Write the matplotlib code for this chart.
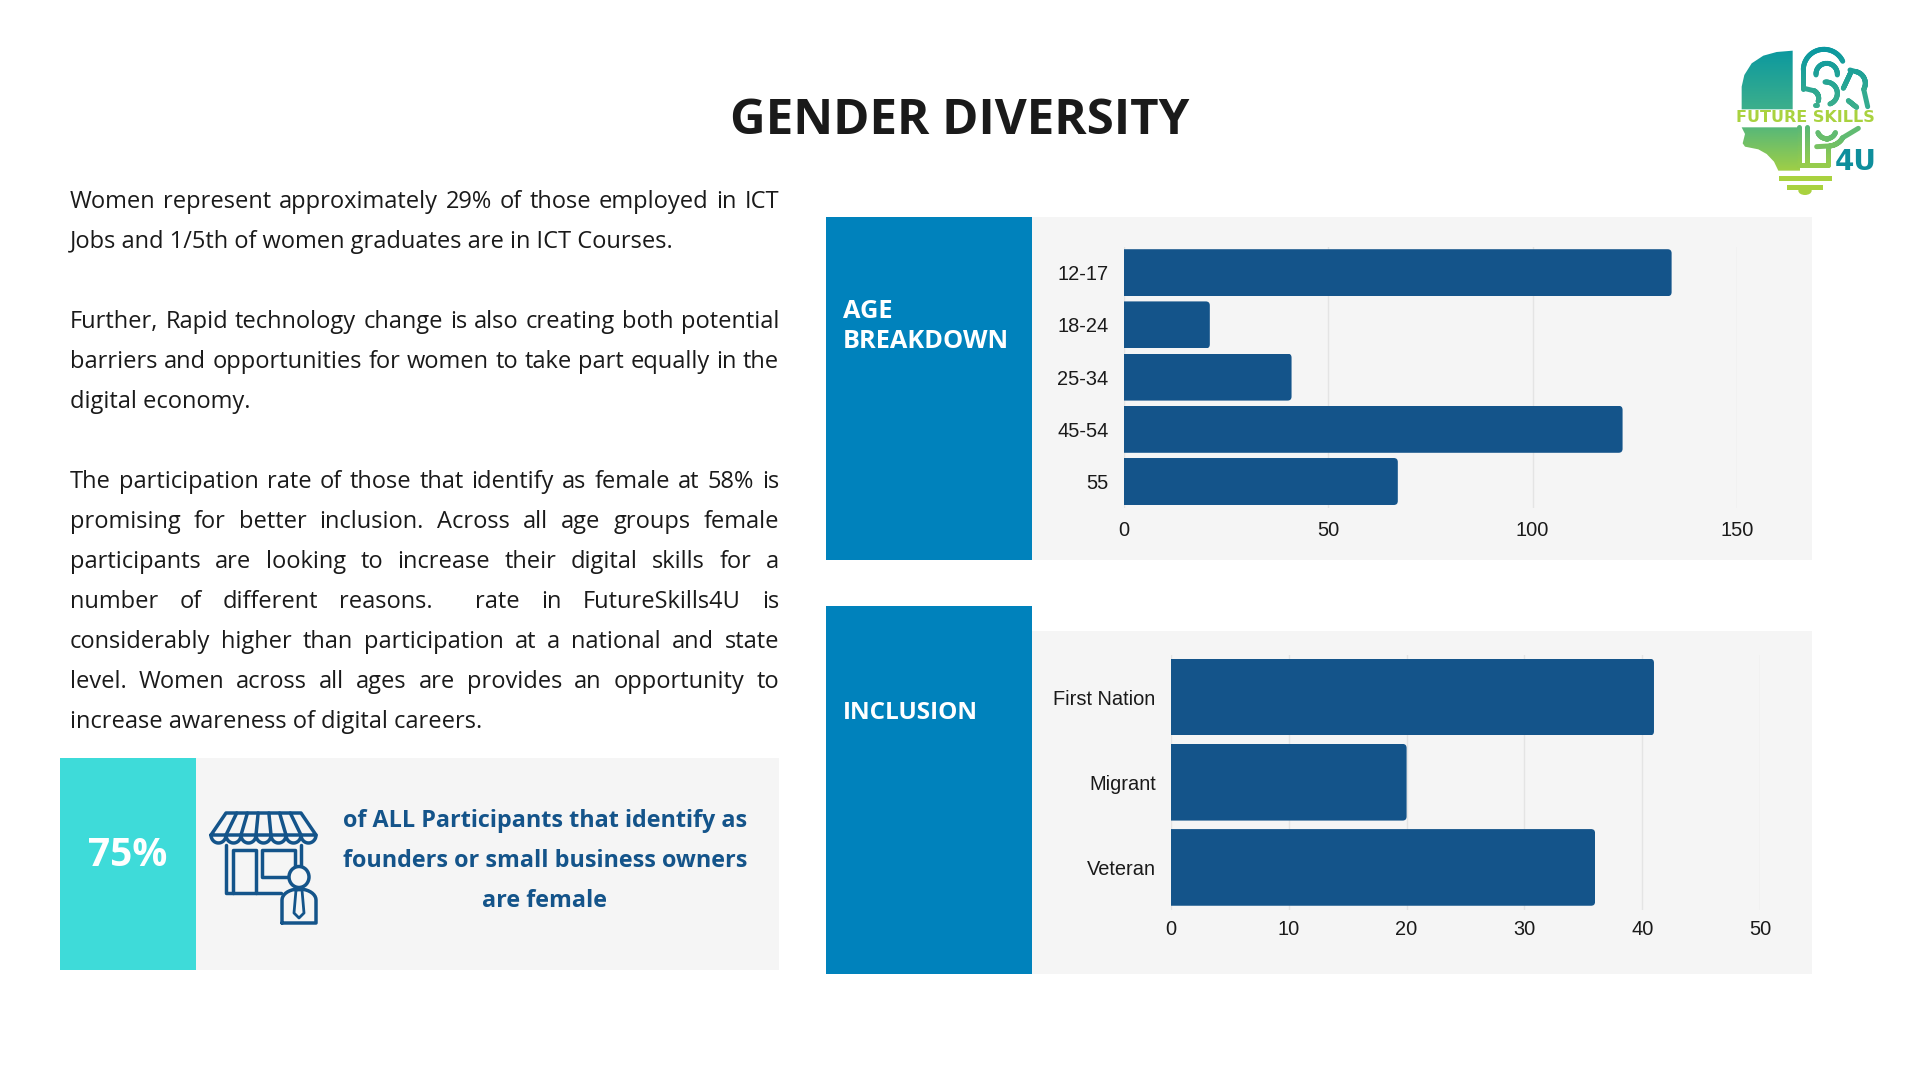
import numpy as np
import matplotlib
matplotlib.use("Agg")
import matplotlib.pyplot as plt
from matplotlib.collections import LineCollection
from matplotlib.colors import LinearSegmentedColormap
from matplotlib.patches import Rectangle, FancyBboxPatch, Ellipse, PathPatch
from matplotlib.path import Path
from matplotlib.transforms import IdentityTransform

W, H = 1920, 1080

age_groups = ["12-17", "18-24", "25-34", "45-54", "55"]
age_counts = [134, 21, 41, 122, 67]
age_ticks = [0, 50, 100, 150]

inclusion_groups = ["First Nation", "Migrant", "Veteran"]
inclusion_counts = [41, 20, 36]
inclusion_ticks = [0, 10, 20, 30, 40, 50]

title = "GENDER DIVERSITY"
body_lines = [
    ("Women represent approximately 29% of those employed in ICT", True),
    ("Jobs and 1/5th of women graduates are in ICT Courses.", False),
    None,
    ("Further, Rapid technology change is also creating both potential", True),
    ("barriers and opportunities for women to take part equally in the", True),
    ("digital economy.", False),
    None,
    ("The participation rate of those that identify as female at 58% is", True),
    ("promising for better inclusion. Across all age groups female", True),
    ("participants are looking to increase their digital skills for a", True),
    ("number of different reasons.  rate in FutureSkills4U is", True),
    ("considerably higher than participation at a national and state", True),
    ("level. Women across all ages are provides an opportunity to", True),
    ("increase awareness of digital careers.", False),
]
callout_value = "75%"
callout_lines = ["of ALL Participants that identify as",
                 "founders or small business owners",
                 "are female"]

BLUE = "#0082BC"
BAR = "#14548A"
GREY = "#F5F5F5"
TURQ = "#3EDBD9"
INK = "#1A1A1A"
MAIN_FONT = "Open Sans"

fig = plt.figure(figsize=(19.2, 10.8), dpi=100, facecolor="white")


def px_axes(x0, y0, x1, y1):
    return fig.add_axes([x0 / W, 1 - y1 / H, (x1 - x0) / W, (y1 - y0) / H])


bg = px_axes(0, 0, W, H)
bg.set_xlim(0, W)
bg.set_ylim(H, 0)
bg.axis("off")


def box(x0, y0, x1, y1, color):
    bg.add_patch(Rectangle((x0, y0), x1 - x0, y1 - y0, fc=color, ec="none"))


box(1032, 217, 1812, 560, GREY)
box(826, 217, 1032, 560, BLUE)
box(1032, 631, 1812, 974, GREY)
box(826, 606, 1032, 974, BLUE)
box(196, 758, 779, 970, GREY)
box(60, 758, 196, 970, TURQ)

bg.text(960, 121, title, ha="center", va="center", fontsize=35.5, fontweight="bold",
        color=INK, family=MAIN_FONT)

bg.text(843, 311, "AGE", va="center", fontsize=18.3, fontweight="bold", color="white", family=MAIN_FONT)
bg.text(843, 341, "BREAKDOWN", va="center", fontsize=18.3, fontweight="bold", color="white", family=MAIN_FONT)
bg.text(843, 713, "INCLUSION", va="center", fontsize=17.5, fontweight="bold", color="white", family=MAIN_FONT)

bg.text(128, 856, callout_value, ha="center", va="center", fontsize=28, fontweight="bold",
        color="white", family=MAIN_FONT)
for i, line in enumerate(callout_lines):
    bg.text(545, 821 + i * 40, line, ha="center", va="center", fontsize=16.8, fontweight="bold",
            color=BAR, family=MAIN_FONT)

# body copy, justified by hand since matplotlib can't do it
renderer = fig.canvas.get_renderer()
LEFT, RIGHT = 70, 779
BODY_SIZE = 17
for i, entry in enumerate(body_lines):
    if entry is None:
        continue
    y = 202 + i * 40
    line, justified = entry
    if not justified:
        bg.text(LEFT, y, line, va="center", fontsize=BODY_SIZE, color=INK, family=MAIN_FONT)
        continue
    words = line.split(" ")
    parts = [bg.text(LEFT, y, w, va="center", fontsize=BODY_SIZE, color=INK, family=MAIN_FONT) for w in words]
    widths = [p.get_window_extent(renderer).width if p.get_text() else 0 for p in parts]
    gap = (RIGHT - LEFT - sum(widths)) / (len(words) - 1)
    x = LEFT
    for p, w in zip(parts, widths):
        p.set_x(x)
        x += w + gap


def hbar_chart(pos, labels, values, ticks, tick_y_pad):
    ax = px_axes(*pos)
    ax.patch.set_alpha(0)
    bars = ax.barh(labels, values, height=0.9, color=BAR, zorder=3)
    ax.set_xlim(ticks[0], ticks[-1])
    ax.set_ylim(len(labels) - 0.5, -0.5)
    ax.set_xticks(ticks)
    ax.grid(axis="x", color="#E4E4E4", linewidth=1, zorder=0)
    ax.tick_params(length=0, labelsize=14.4, labelcolor=INK)
    ax.tick_params(axis="y", pad=11)
    ax.tick_params(axis="x", pad=tick_y_pad)
    for s in ax.spines.values():
        s.set_visible(False)
    for t in ax.get_xticklabels() + ax.get_yticklabels():
        t.set_family("Liberation Sans")
    # small rounded right end on each bar
    for b in bars:
        ext = b.get_window_extent(renderer)
        clip = FancyBboxPatch((ext.x0 - 20, ext.y0), ext.width + 20, ext.height,
                              boxstyle="round,pad=0,rounding_size=4", transform=IdentityTransform())
        b.set_clip_path(clip)
    return ax


hbar_chart((1124, 246.6, 1737, 507.6), age_groups, age_counts, age_ticks, 9.5)
hbar_chart((1171, 654.5, 1760, 910), inclusion_groups, inclusion_counts, inclusion_ticks, 7.5)

# shop front icon
ic = dict(color=BAR, lw=2.5, solid_capstyle="round", solid_joinstyle="round", zorder=4)
aw_top = np.linspace(226, 301, 8)
aw_bot = np.linspace(211, 316, 8)
bg.plot([aw_bot[0], aw_top[0], aw_top[-1], aw_bot[-1], aw_bot[0]], [835, 813, 813, 835, 835], **ic)
for a, b in zip(aw_top[1:-1], aw_bot[1:-1]):
    bg.plot([a, b], [813, 835], **ic)
for a, b in zip(aw_bot[:-1], aw_bot[1:]):
    t = np.linspace(0, np.pi, 20)
    bg.plot((a + b) / 2 + (b - a) / 2 * np.cos(t), 835 + 8 * np.sin(t), **ic)
bg.plot([226, 226, 281], [845, 893, 893], **ic)
bg.plot([301, 301], [845, 866], **ic)
bg.plot([233, 233, 256, 256], [893, 850, 850, 893], **ic)
bg.plot([288, 262, 262, 295, 295], [877, 877, 850, 850, 866], **ic)
bg.add_patch(Ellipse((299, 877), 20, 21, fc=GREY, ec=BAR, lw=2.5, zorder=5))
t = np.linspace(np.pi, 2 * np.pi, 20)
bg.plot(np.r_[282, 282 + 17 + 17 * np.cos(t), 316, 282], np.r_[923, 900 + 11 * np.sin(t), 923, 923], **ic)
bg.plot([296, 302, 304, 299, 294, 296], [890, 890, 913, 918, 913, 890], color=BAR, lw=2, zorder=5)

# logo, in the coordinates of a 3x crop of the corner
logo = px_axes(1700, 30, 1900, 210)
logo.axis("off")
logo.patch.set_alpha(0)
grad = LinearSegmentedColormap.from_list("logo", ["#0A98A0", "#3FB08A", "#A9D23F"])
Y0, Y1 = 55, 440


def logo_color(y):
    return grad((np.asarray(y) - Y0) / (Y1 - Y0))


def stroke(pts, lw=3.6):
    pts = np.array(pts, dtype=float)
    if len(pts) == 2:
        pts = np.linspace(pts[0], pts[1], 30)
    segs = np.stack([pts[:-1], pts[1:]], axis=1)
    logo.add_collection(LineCollection(segs, colors=logo_color(segs[:, :, 1].mean(axis=1)), linewidths=lw,
                                       capstyle="round"))


def arc(cx, cy, r, a0, a1, ry=None):
    t = np.radians(np.linspace(a0, a1, 40))
    return np.c_[cx + r * np.cos(t), cy - (ry or r) * np.sin(t)]


head = [(278, 62), (278, 238), (125, 238), (125, 170), (133, 135), (155, 100), (190, 77), (230, 66)]
face = [(125, 292), (292, 292), (292, 407), (330, 407), (330, 422), (235, 422), (222, 395), (200, 372),
        (175, 358), (135, 350), (128, 340), (135, 312)]
verts, codes = [], []
for shape in (head, face):
    verts += shape + [shape[0]]
    codes += [Path.MOVETO] + [Path.LINETO] * (len(shape) - 1) + [Path.CLOSEPOLY]
clip_path = PathPatch(Path(verts, codes), transform=logo.transData, fc="none", ec="none")
logo.add_patch(clip_path)
im = logo.imshow(np.linspace(0, 1, 256)[:, None], extent=(100, 300, Y1, Y0), cmap=grad, aspect="auto", zorder=2)
im.set_clip_path(clip_path)
logo.set_xlim(0, 600)
logo.set_ylim(540, 0)

# brain outline and folds
stroke([(310, 178), (310, 118)])
stroke(arc(372, 120, 62, 180, 25))
stroke(arc(380, 132, 32, 185, -5))
stroke(np.r_[[(450, 120)], arc(460, 160, 36, 80, -30), [(503, 230)]])
stroke([(430, 175), (452, 128)])
stroke(np.r_[[(312, 175)], arc(330, 205, 26, 60, -20)])
stroke(arc(378, 190, 34, 95, -70))
stroke([(445, 212), (470, 232)])
stroke([(345, 225), (352, 225)])
stroke([(320, 292), (320, 405)])
stroke([(298, 292), (298, 405)])
stroke([(298, 405), (385, 405)])
stroke([(385, 355), (385, 405)])
stroke(arc(380, 298, 28, 200, 340))
stroke(np.r_[[(350, 350)], arc(385, 298, 50, -85, -30), [(475, 295)]])
logo.add_patch(Rectangle((237, 437), 158, 15, fc=logo_color(444), ec="none"))
logo.add_patch(Rectangle((262, 465), 108, 15, fc=logo_color(440), ec="none"))
logo.add_patch(Ellipse((315, 482), 40, 26, fc=logo_color(440), ec="none"))
logo.text(316, 262, "FUTURE SKILLS", ha="center", va="center", fontsize=11.5, fontweight="bold",
          color="#A9D23F", family="DejaVu Sans", zorder=6)
logo.text(466, 397, "4U", ha="center", va="center", fontsize=20, fontweight="bold",
          color="#0E8E9C", family="DejaVu Sans", zorder=6)

fig.savefig("out.png", dpi=100, facecolor="white")
